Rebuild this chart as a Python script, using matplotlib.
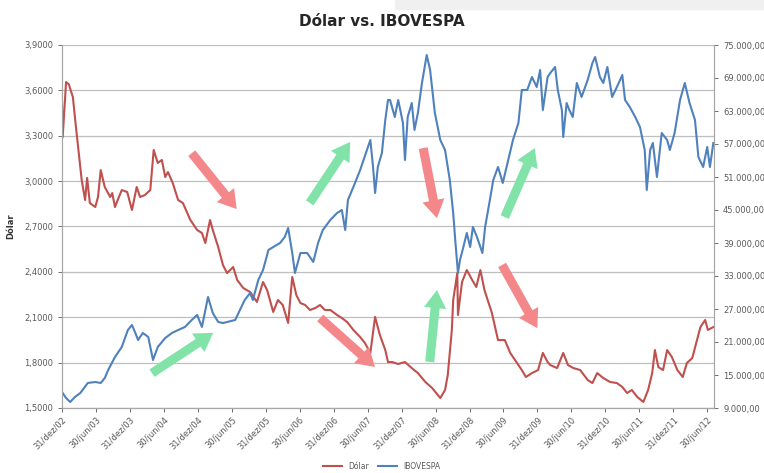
import matplotlib
matplotlib.use("Agg")
import matplotlib.pyplot as plt
from matplotlib.ticker import FuncFormatter
from matplotlib.patches import Rectangle

# Dados (ano decimal, valor)
dolar_t = [2003.00, 2003.01, 2003.06, 2003.10, 2003.16, 2003.21, 2003.29, 2003.34, 2003.37, 2003.41,
           2003.49, 2003.53, 2003.57, 2003.63, 2003.71, 2003.74, 2003.78, 2003.82, 2003.88, 2003.96,
           2004.03, 2004.10, 2004.15, 2004.22, 2004.30, 2004.35, 2004.41, 2004.47, 2004.52, 2004.56,
           2004.63, 2004.71, 2004.78, 2004.89, 2004.99, 2005.06, 2005.11, 2005.18, 2005.22, 2005.30,
           2005.37, 2005.43, 2005.52, 2005.58, 2005.67, 2005.77, 2005.87, 2005.96, 2006.02, 2006.11,
           2006.18, 2006.25, 2006.33, 2006.39, 2006.45, 2006.51, 2006.58, 2006.65, 2006.73, 2006.80,
           2006.87, 2006.95, 2007.05, 2007.12, 2007.20, 2007.29, 2007.39, 2007.46, 2007.54, 2007.61,
           2007.68, 2007.76, 2007.80, 2007.86, 2007.95, 2008.05, 2008.15, 2008.24, 2008.35, 2008.45,
           2008.57, 2008.64, 2008.68, 2008.74, 2008.76, 2008.82, 2008.83, 2008.89, 2008.96, 2009.04,
           2009.10, 2009.16, 2009.22, 2009.33, 2009.42, 2009.52, 2009.60, 2009.67, 2009.77, 2009.83,
           2009.92, 2010.01, 2010.08, 2010.15, 2010.19, 2010.29, 2010.38, 2010.45, 2010.53, 2010.63,
           2010.74, 2010.81, 2010.88, 2010.97, 2011.07, 2011.17, 2011.25, 2011.32, 2011.39, 2011.47,
           2011.56, 2011.63, 2011.69, 2011.73, 2011.78, 2011.85, 2011.91, 2011.98, 2012.06, 2012.14,
           2012.20, 2012.28, 2012.35, 2012.40, 2012.47, 2012.51, 2012.59]
dolar_v = [3.52, 3.29, 3.655, 3.64, 3.556, 3.338, 3.007, 2.875, 3.021, 2.855,
           2.829, 2.895, 3.073, 2.961, 2.895, 2.921, 2.829, 2.875, 2.941, 2.928,
           2.809, 2.961, 2.895, 2.908, 2.941, 3.206, 3.120, 3.140, 3.027, 3.060,
           2.988, 2.875, 2.855, 2.743, 2.677, 2.657, 2.591, 2.743, 2.677, 2.564,
           2.445, 2.392, 2.432, 2.346, 2.293, 2.267, 2.201, 2.333, 2.280, 2.135,
           2.214, 2.181, 2.062, 2.366, 2.247, 2.194, 2.181, 2.148, 2.161, 2.181,
           2.148, 2.148, 2.115, 2.095, 2.068, 2.016, 1.969, 1.930, 1.864, 2.102,
           1.983, 1.883, 1.804, 1.804, 1.791, 1.804, 1.764, 1.731, 1.672, 1.632,
           1.566, 1.619, 1.718, 2.016, 2.214, 2.392, 2.115, 2.333, 2.412, 2.346,
           2.300, 2.412, 2.280, 2.128, 1.949, 1.949, 1.864, 1.817, 1.751, 1.705,
           1.731, 1.751, 1.864, 1.804, 1.784, 1.764, 1.864, 1.784, 1.764, 1.751,
           1.685, 1.665, 1.731, 1.698, 1.672, 1.665, 1.639, 1.599, 1.619, 1.573,
           1.540, 1.619, 1.731, 1.883, 1.771, 1.751, 1.883, 1.837, 1.751, 1.705,
           1.797, 1.830, 1.949, 2.035, 2.082, 2.016, 2.035]

ibov_t = [2003.00, 2003.06, 2003.12, 2003.19, 2003.27, 2003.38, 2003.49, 2003.57, 2003.63, 2003.68,
          2003.78, 2003.88, 2003.97, 2004.03, 2004.08, 2004.12, 2004.19, 2004.27, 2004.34, 2004.41,
          2004.52, 2004.62, 2004.71, 2004.81, 2004.91, 2004.99, 2005.06, 2005.15, 2005.22, 2005.30,
          2005.37, 2005.43, 2005.55, 2005.62, 2005.69, 2005.77, 2005.81, 2005.89, 2005.96, 2006.04,
          2006.11, 2006.21, 2006.28, 2006.33, 2006.39, 2006.43, 2006.51, 2006.61, 2006.70, 2006.77,
          2006.84, 2006.95, 2007.05, 2007.12, 2007.17, 2007.21, 2007.29, 2007.39, 2007.49, 2007.54,
          2007.58, 2007.61, 2007.65, 2007.71, 2007.76, 2007.80, 2007.83, 2007.90, 2007.95, 2008.02,
          2008.05, 2008.09, 2008.15, 2008.19, 2008.24, 2008.30, 2008.37, 2008.42, 2008.49, 2008.57,
          2008.64, 2008.71, 2008.76, 2008.79, 2008.83, 2008.86, 2008.91, 2008.96, 2009.01, 2009.05,
          2009.11, 2009.19, 2009.23, 2009.30, 2009.35, 2009.42, 2009.49, 2009.57, 2009.64, 2009.72,
          2009.77, 2009.85, 2009.92, 2009.99, 2010.04, 2010.08, 2010.15, 2010.19, 2010.26, 2010.30,
          2010.36, 2010.38, 2010.43, 2010.47, 2010.52, 2010.58, 2010.65, 2010.74, 2010.81, 2010.85,
          2010.92, 2010.97, 2011.03, 2011.10, 2011.17, 2011.25, 2011.29, 2011.36, 2011.44, 2011.51,
          2011.58, 2011.61, 2011.66, 2011.70, 2011.76, 2011.83, 2011.91, 2011.95, 2012.02, 2012.10,
          2012.17, 2012.24, 2012.32, 2012.37, 2012.44, 2012.50, 2012.54, 2012.59]
ibov_v = [11900, 10820, 10090, 11000, 11730, 13550, 13730, 13550, 14450, 15910,
          18270, 20090, 23180, 24090, 22640, 21360, 22640, 21910, 17730, 20090,
          21730, 22640, 23180, 23730, 25000, 25910, 23730, 29180, 26270, 24640,
          24450, 24640, 25000, 26820, 28640, 29910, 28640, 32270, 34090, 37730,
          38270, 39000, 40090, 41730, 37180, 33550, 37180, 37180, 35550, 39000,
          41360, 43180, 44450, 45000, 41360, 46820, 49180, 52270, 55910, 57730,
          52820, 48090, 52820, 55360, 61360, 65000, 65000, 61910, 65000, 60820,
          54090, 61910, 64450, 59550, 62640, 68090, 73180, 70450, 62640, 57730,
          55910, 50450, 44450, 39550, 33550, 35910, 38270, 40820, 38270, 41910,
          40090, 37180, 41910, 46820, 50450, 52820, 49910, 54090, 57730, 60820,
          66820, 66820, 69180, 67360, 70450, 63180, 69180, 69910, 71000, 66820,
          63180, 58270, 64450, 63180, 61910, 68090, 65550, 68640, 71730, 72820,
          69180, 68090, 71000, 65550, 67360, 69550, 65000, 63730, 61910, 60090,
          55910, 48640, 55910, 57180, 51000, 59000, 57730, 55910, 59000, 65000,
          68090, 64450, 61360, 54640, 52820, 56450, 52820, 57180]

# ticks semestrais
tick_pos = [2003.0 + 0.5 * i for i in range(20)]
tick_lab = []
for i in range(20):
    if i % 2 == 0:
        tick_lab.append("31/dez/%02d" % (2 + i // 2))
    else:
        tick_lab.append("30/jun/%02d" % (3 + i // 2))

cor_dolar = "#c0504d"
cor_ibov = "#4f81bd"
cinza = "#595959"

fig = plt.figure(figsize=(7.64, 4.73), dpi=100)
fig.patches.append(Rectangle((395 / 764, 1 - 9 / 473), 1, 9 / 473, transform=fig.transFigure,
                             color="#f0f0f0", zorder=0))
ax = fig.add_axes([62 / 764, 1 - 408 / 473, 652 / 764, 363 / 473])
ax2 = ax.twinx()

l1, = ax.plot(dolar_t, dolar_v, color=cor_dolar, lw=1.5, label="Dólar")
l2, = ax2.plot(ibov_t, ibov_v, color=cor_ibov, lw=1.5, label="IBOVESPA")

ax.set_xlim(2003.0, 2012.6)
ax.set_ylim(1.5, 3.9)
ax2.set_ylim(9000, 75000)
ax.set_yticks([1.5 + 0.3 * i for i in range(9)])
ax2.set_yticks([9000 + 6000 * i for i in range(12)])
ax.yaxis.set_major_formatter(FuncFormatter(lambda v, p: ("%.4f" % v).replace(".", ",")))
ax2.yaxis.set_major_formatter(FuncFormatter(
    lambda v, p: ("{:,.2f}".format(v)).replace(",", "X").replace(".", ",").replace("X", ".")))
ax.set_xticks(tick_pos)
ax.set_xticklabels(tick_lab, rotation=45, ha="right", rotation_mode="anchor")

ax.grid(axis="y", color="#bfbfbf", lw=0.9)
ax.set_axisbelow(True)
for a in (ax, ax2):
    a.spines["top"].set_visible(False)
    for s in ("left", "right", "bottom"):
        a.spines[s].set_color("#a6a6a6")
    a.tick_params(labelsize=6, colors=cinza, length=3, width=0.6)
ax.tick_params(axis="x", pad=2)

ax.set_ylabel("Dólar", fontsize=6, fontweight="bold", color="#333333", labelpad=6)
fig.suptitle("Dólar vs. IBOVESPA", x=0.5, y=0.97, fontsize=11, fontweight="bold", color="#262626")

fig.legend(handles=[l1, l2], loc="lower center", bbox_to_anchor=(0.5, -0.01), ncol=2,
           frameon=False, fontsize=5.5, handlelength=2.5, columnspacing=1.2, labelcolor=cinza)

# setas de tendência (frações do eixo)
setas = [((0.199, 0.702), (0.268, 0.548), "#f4878a"),
         ((0.138, 0.096), (0.232, 0.207), "#82e3a8"),
         ((0.380, 0.565), (0.442, 0.733), "#82e3a8"),
         ((0.396, 0.248), (0.480, 0.113), "#f4878a"),
         ((0.554, 0.716), (0.575, 0.523), "#f4878a"),
         ((0.564, 0.127), (0.575, 0.325), "#82e3a8"),
         ((0.679, 0.526), (0.725, 0.716), "#82e3a8"),
         ((0.675, 0.394), (0.729, 0.220), "#f4878a")]
for ini, fim, cor in setas:
    ax2.annotate("", xy=fim, xytext=ini, xycoords="axes fraction", textcoords="axes fraction",
                 arrowprops=dict(arrowstyle="simple,head_width=1.6,head_length=1.3,tail_width=0.65",
                                 color=cor, lw=0, shrinkA=0, shrinkB=0), zorder=5)

fig.savefig("out.png", dpi=100)
